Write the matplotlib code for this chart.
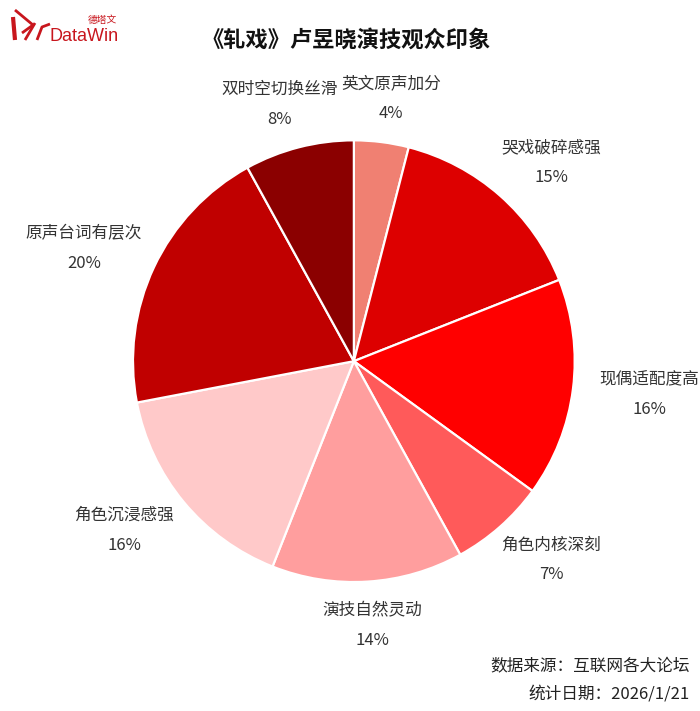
import numpy as np
import matplotlib
matplotlib.use("Agg")
import matplotlib.pyplot as plt

plt.rcParams['font.family'] = ['Noto Sans CJK SC', 'DejaVu Sans']

# data, clockwise from 12 o'clock
labels = ["英文原声加分", "哭戏破碎感强", "现偶适配度高", "角色内核深刻",
          "演技自然灵动", "角色沉浸感强", "原声台词有层次", "双时空切换丝滑"]
values = [4, 15, 16, 7, 14, 16, 20, 8]
colors = ["#F08072", "#DD0000", "#FF0000", "#FF5A5A",
          "#FF9E9E", "#FFC9C9", "#C00000", "#8B0000"]

fig = plt.figure(figsize=(7, 7.11), dpi=100)
ax = fig.add_axes([0.19, 0.181, 0.631, 0.622])

wedges, _ = ax.pie(values, colors=colors, startangle=90, counterclock=False,
                   wedgeprops=dict(edgecolor="white", linewidth=1.6))
ax.set_xlim(-1, 1)
ax.set_ylim(-1, 1)
ax.set_aspect("equal")

# outside labels on a slightly wide ellipse around the pie
for w, name, v in zip(wedges, labels, values):
    ang = np.deg2rad((w.theta1 + w.theta2) / 2)
    ax.text(1.35 * np.cos(ang), 1.2 * np.sin(ang), f"{name}\n{v}%",
            ha="center", va="center", fontsize=12, color="#333333",
            linespacing=2.0, clip_on=False)

fig.text(0.494, 0.944, "《轧戏》卢昱晓演技观众印象", ha="center", va="center",
         fontsize=16, fontweight="bold", color="#111111")

fig.text(0.986, 0.064, "数据来源：互联网各大论坛", ha="right", va="center",
         fontsize=12, color="#222222")
fig.text(0.986, 0.024, "统计日期：2026/1/21", ha="right", va="center",
         fontsize=12, color="#222222")

# logo
red = "#C8161D"
fig.text(0.071, 0.949, "DataWin", ha="left", va="center", fontsize=13,
         color=red, family=["Liberation Sans", "DejaVu Sans"])
fig.text(0.126, 0.972, "德塔文", ha="left", va="center", fontsize=7, color=red)
strokes = [
    ([13, 15], [17, 40], 3.0),
    ([15, 33, 22], [10, 25, 33], 2.0),
    ([25, 35], [40, 23], 2.0),
    ([37, 42, 50], [40, 27, 24], 2.0),
]
for xs, ys, lw in strokes:
    fig.add_artist(plt.Line2D([x / 700 for x in xs], [1 - y / 711 for y in ys],
                              color=red, lw=lw, solid_capstyle="butt"))

fig.savefig("out.png", dpi=100, facecolor="white")
